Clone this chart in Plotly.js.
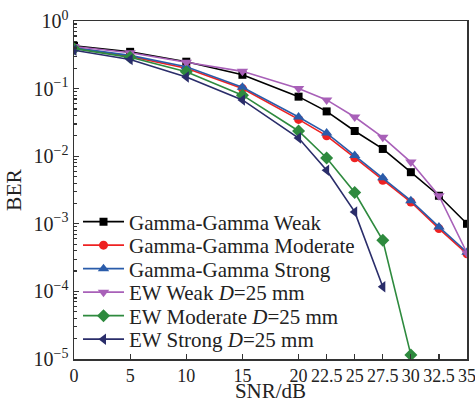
<!DOCTYPE html>
<html><head><meta charset="utf-8">
<script src="https://cdn.plot.ly/plotly-3.0.1.min.js"></script>
<style>html,body{margin:0;padding:0;background:#fff}#chart{width:475px;height:403px}</style>
</head><body><div id="chart"></div>
<script>
const snr = [0, 5, 10, 15, 20, 22.5, 25, 27.5, 30, 32.5, 35];
const ggWeak     = [0.43, 0.35, 0.25, 0.16, 0.076, 0.046, 0.0236, 0.0128, 0.0058, 0.0026, 0.00100];
const ggModerate = [0.40, 0.30, 0.20, 0.10, 0.035, 0.020, 0.0095, 0.0044, 0.0021, 0.00085, 0.00036];
const ggStrong   = [0.40, 0.31, 0.21, 0.105, 0.038, 0.022, 0.0102, 0.0048, 0.0022, 0.00090, 0.00038];
const ewWeak     = [0.42, 0.34, 0.245, 0.18, 0.10, 0.068, 0.038, 0.019, 0.0082, 0.0026, 0.00037];
const snrEwMod   = [0, 5, 10, 15, 20, 22.5, 25, 27.5, 30];
const ewModerate = [0.39, 0.29, 0.177, 0.08, 0.0236, 0.0094, 0.0029, 0.00057, 0.0000115];
const snrEwStr   = [0, 5, 10, 15, 20, 22.5, 25, 27.5];
const ewStrong   = [0.37, 0.27, 0.148, 0.068, 0.0186, 0.0062, 0.0015, 0.000117];
const names = ['Gamma-Gamma Weak','Gamma-Gamma Moderate','Gamma-Gamma Strong',
  'EW Weak <i>D</i>=25 mm','EW Moderate <i>D</i>=25 mm','EW Strong <i>D</i>=25 mm'];
const xTicks = [0, 5, 10, 15, 20, 22.5, 25, 27.5, 30, 32.5, 35];
const yTickVals = [1, 0.1, 0.01, 0.001, 0.0001, 0.00001];
const yTickText = ['10<sup>0</sup>','10<sup>\u22121</sup>','10<sup>\u22122</sup>','10<sup>\u22123</sup>','10<sup>\u22124</sup>','10<sup>\u22125</sup>'];

const minorVals = [];
for (let e = -5; e < 0; e++) for (let m = 2; m <= 9; m++) minorVals.push(m * Math.pow(10, e));

const FONT = 'Liberation Serif, Times New Roman, serif';
const legendIds = ['legend','legend2','legend3','legend4','legend5','legend6'];
function tr(i, x, y, color, symbol, size) {
  return {x: x, y: y, name: names[i], type: 'scatter', mode: 'lines+markers', legend: legendIds[i],
    line: {color: color, width: 1.6},
    marker: {color: color, symbol: symbol, size: size}};
}
const data = [
  tr(0, snr, ggWeak, '#000000', 'square', 8),
  tr(1, snr, ggModerate, '#ee2222', 'circle', 9),
  tr(2, snr, ggStrong, '#2a5caa', 'triangle-up', 10),
  tr(3, snr, ewWeak, '#a860b8', 'triangle-down', 10),
  tr(4, snrEwMod, ewModerate, '#2e8a3e', 'diamond', 10),
  tr(5, snrEwStr, ewStrong, '#2a2d6a', 'triangle-left', 10)
];
const layout = {
  width: 475, height: 403,
  margin: {l: 74, r: 8, t: 21, b: 44},
  paper_bgcolor: '#fff', plot_bgcolor: '#fff',
  font: {family: FONT, color: '#222', size: 16},
  showlegend: true,
  xaxis: {range: [0, 35], tickmode: 'array', tickvals: xTicks, ticktext: xTicks.map(String),
    ticks: 'inside', ticklen: 5, tickwidth: 1.2, tickcolor: '#333', ticklabeloverflow: 'allow',
    showline: true, linecolor: '#333', linewidth: 1.5, mirror: true, showgrid: false, zeroline: false,
    tickfont: {family: FONT, size: 18, color: '#222'},
    title: {text: '\u00a0\u00a0\u00a0SNR/dB', font: {family: FONT, size: 21, color: '#222'}, standoff: 6}},
  yaxis: {type: 'log', range: [-5, 0], tickmode: 'array', tickvals: yTickVals, ticktext: yTickText,
    ticks: 'inside', ticklen: 5, tickwidth: 1.2, tickcolor: '#333',
    minor: {tickmode: 'array', tickvals: minorVals, ticks: 'inside', ticklen: 3, tickcolor: '#333', showgrid: false},
    showline: true, linecolor: '#333', linewidth: 1.5, mirror: true, showgrid: false, zeroline: false,
    tickfont: {family: FONT, size: 20, color: '#222'},
    title: {text: 'BER', font: {family: FONT, size: 21.5, color: '#222'}, standoff: 6}}
};
const rowPx = [222, 245.5, 269, 292.5, 316, 339.5];
legendIds.forEach(function (id, i) {
  layout[id] = {x: 0.0102, xanchor: 'left', y: (359 - rowPx[i]) / 338, yanchor: 'middle',
    bgcolor: 'rgba(0,0,0,0)', borderwidth: 0, itemwidth: 41,
    font: {family: FONT, size: 21, color: '#222'}};
});
Plotly.newPlot('chart', data, layout, {displayModeBar: false, staticPlot: true});
</script></body></html>
